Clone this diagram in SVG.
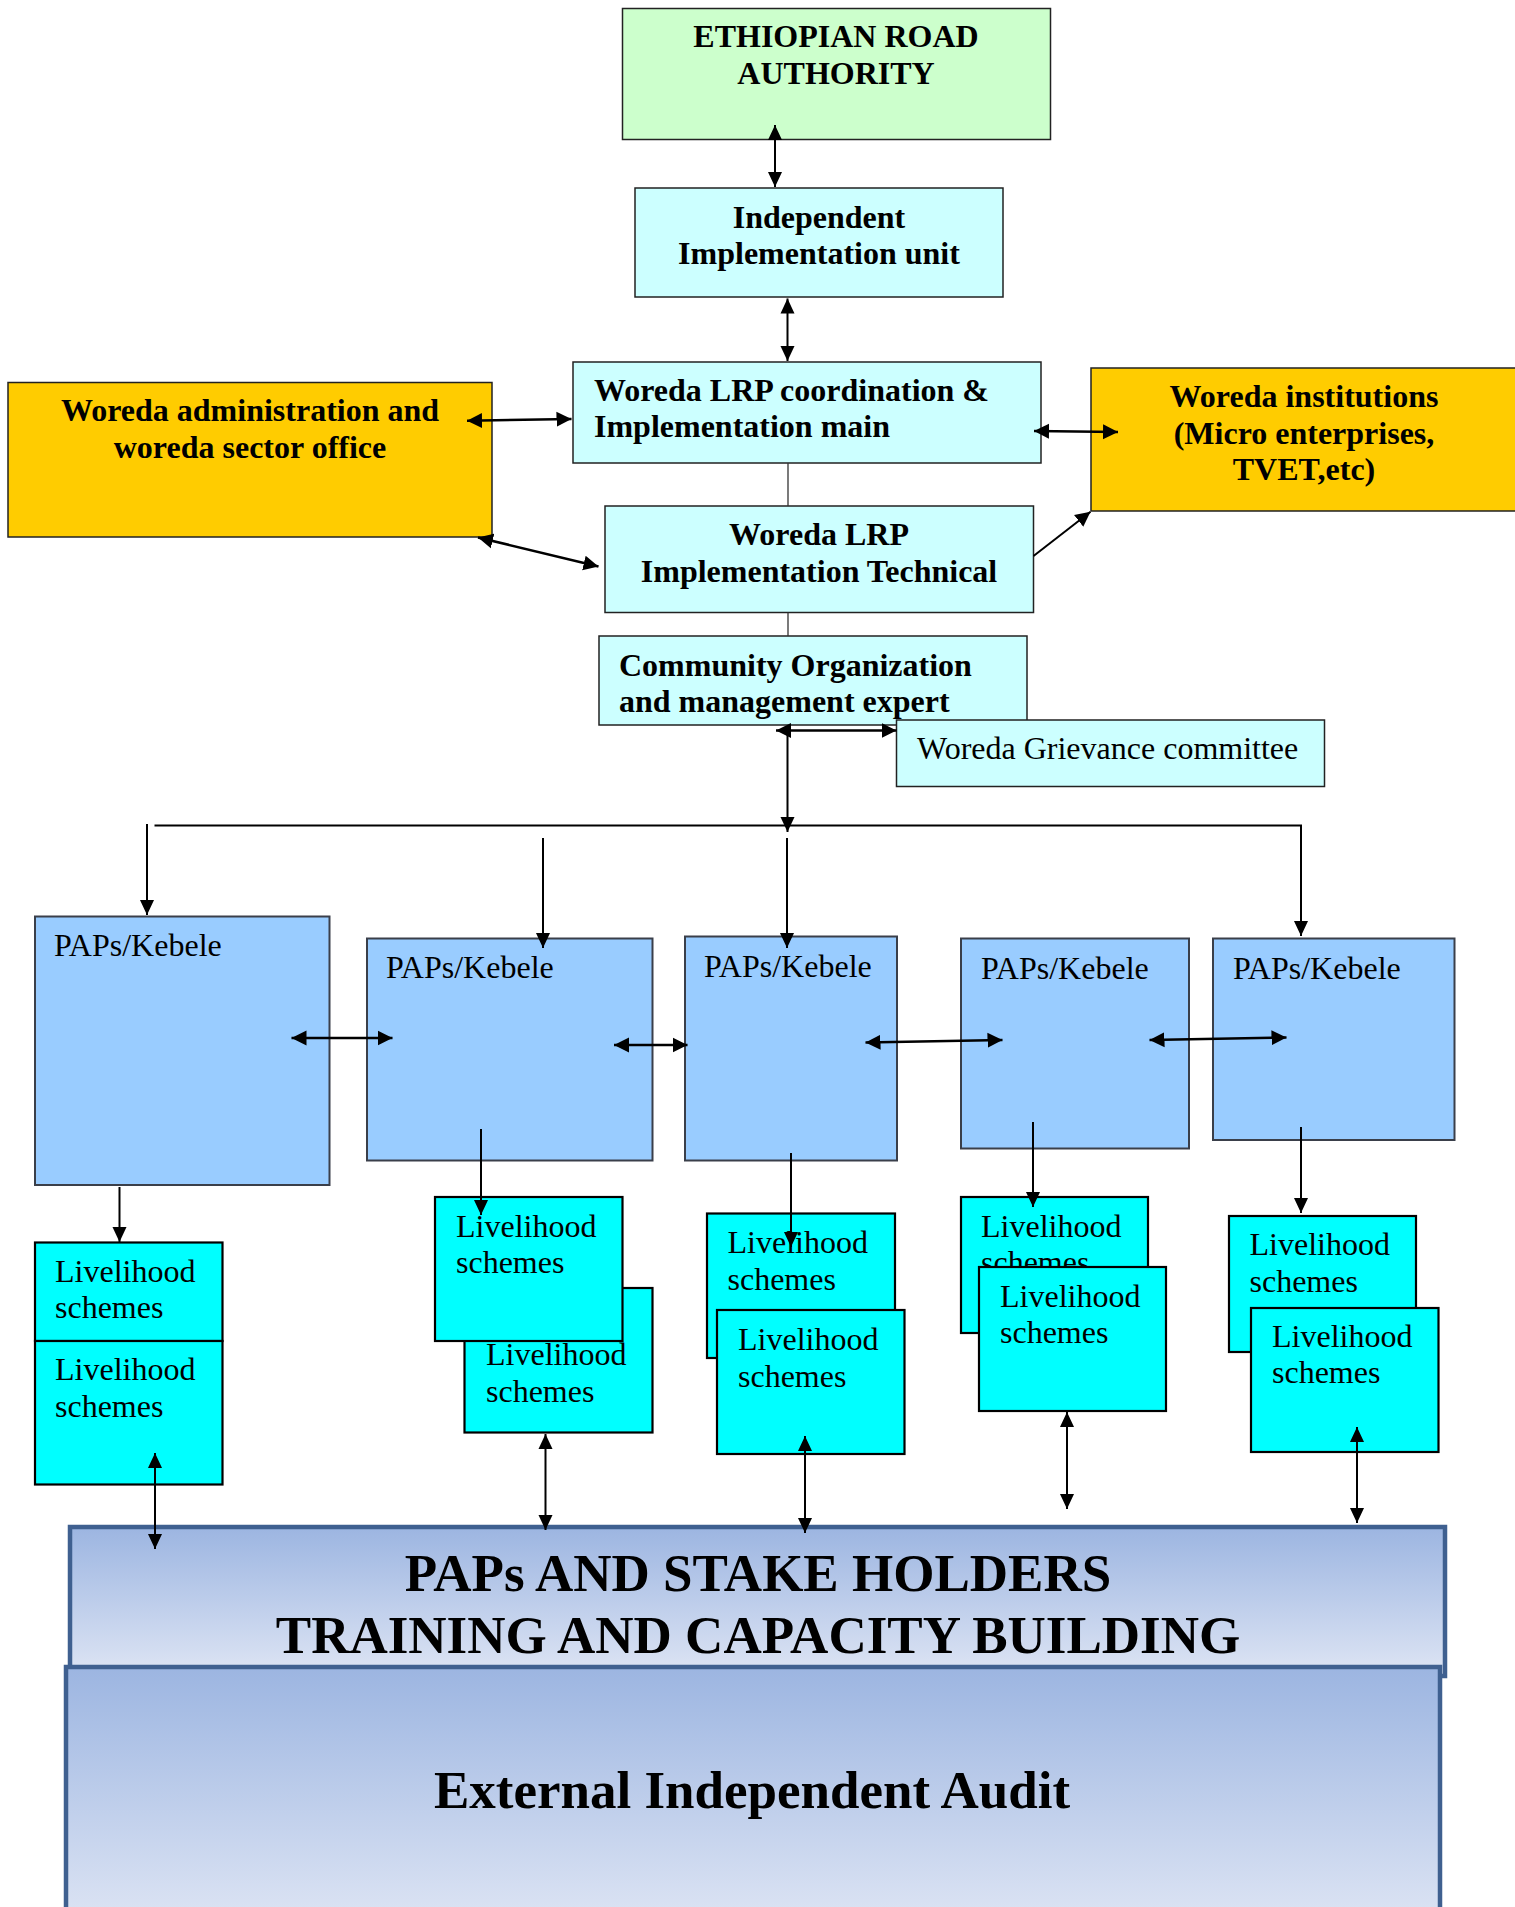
<svg xmlns="http://www.w3.org/2000/svg" width="1515" height="1907" viewBox="0 0 1515 1907">
<style>
  .t { font-family: "Liberation Serif", "Times New Roman", serif; fill: #000; }
  .b { font-weight: bold; font-size: 32px; }
  .r { font-size: 32px; }
  .big { font-weight: bold; font-size: 53px; }
  .mid { text-anchor: middle; }
  .era { fill: #ccffcc; stroke: #222; stroke-width: 1.5; }
  .lc { fill: #ccffff; stroke: #222; stroke-width: 1.5; }
  .yel { fill: #ffcc00; stroke: #222; stroke-width: 1.5; }
  .paps { fill: #99ccff; stroke: #3a3f4a; stroke-width: 2; }
  .ls { fill: #00ffff; stroke: #000; stroke-width: 2.2; }
  .blk { fill: url(#grad); stroke: #3f6090; stroke-width: 4.5; }
  .c { fill: none; stroke: #000; stroke-width: 2; }
  .ct { fill: none; stroke: #000; stroke-width: 2.6; }
  .cl { fill: none; stroke: #333; stroke-width: 1.3; }
</style>
<defs>
  <marker id="ah" markerUnits="userSpaceOnUse" markerWidth="16" markerHeight="15" refX="15" refY="7.5" orient="auto-start-reverse">
    <path d="M0,0.5 L15,7.5 L0,14.5 z" fill="#000"/>
  </marker>
  <marker id="ahb" markerUnits="userSpaceOnUse" markerWidth="16" markerHeight="16" refX="15" refY="8" orient="auto-start-reverse">
    <path d="M0,0.5 L15,8 L0,15.5 z" fill="#000"/>
  </marker>
  <linearGradient id="grad" x1="0" y1="0" x2="0" y2="1">
    <stop offset="0" stop-color="#9cb5e1"/>
    <stop offset="1" stop-color="#dee5f4"/>
  </linearGradient>
  <clipPath id="clipCom"><rect x="599" y="636" width="428" height="89"/></clipPath>
</defs>

<g id="era">
  <rect class="era" x="622.5" y="8.5" width="428" height="131"/>
  <text class="t b mid" x="836" y="47">ETHIOPIAN ROAD</text>
  <text class="t b mid" x="836" y="84">AUTHORITY</text>
</g>
<g id="iiu">
  <rect class="lc" x="635" y="188" width="368" height="109"/>
  <text class="t b mid" x="819" y="228">Independent</text>
  <text class="t b mid" x="819" y="264">Implementation unit</text>
</g>
<g id="coord">
  <rect class="lc" x="573" y="362" width="468" height="101"/>
  <text class="t b" x="594" y="401">Woreda LRP coordination &amp;</text>
  <text class="t b" x="594" y="437">Implementation main</text>
</g>
<g id="admin">
  <rect class="yel" x="8" y="382.5" width="484" height="154.5"/>
  <text class="t b mid" x="250" y="421">Woreda administration and</text>
  <text class="t b mid" x="250" y="458">woreda sector office</text>
</g>
<g id="institutions">
  <rect class="yel" x="1091" y="368" width="430" height="143"/>
  <text class="t b mid" x="1304" y="407">Woreda institutions</text>
  <text class="t b mid" x="1304" y="444">(Micro enterprises,</text>
  <text class="t b mid" x="1304" y="480">TVET,etc)</text>
</g>
<g id="technical">
  <rect class="lc" x="605" y="506" width="428.5" height="106.5"/>
  <text class="t b mid" x="819" y="545">Woreda LRP</text>
  <text class="t b mid" x="819" y="582">Implementation Technical</text>
</g>
<g id="community">
  <rect class="lc" x="599" y="636" width="428" height="89"/>
  <g clip-path="url(#clipCom)">
    <text class="t b" x="619" y="676">Community Organization</text>
    <text class="t b" x="619" y="712">and management expert</text>
  </g>
</g>
<g id="grievance">
  <rect class="lc" x="896.5" y="720" width="428" height="66.5"/>
  <text class="t r" x="917" y="758.5">Woreda Grievance committee</text>
</g>

<g id="paps1">
  <rect class="paps" x="35" y="916.5" width="294.5" height="268.5"/>
  <text class="t r" x="54" y="956">PAPs/Kebele</text>
</g>
<g id="paps2">
  <rect class="paps" x="367" y="938.5" width="285.5" height="222"/>
  <text class="t r" x="386" y="978">PAPs/Kebele</text>
</g>
<g id="paps3">
  <rect class="paps" x="685" y="936.5" width="212" height="224"/>
  <text class="t r" x="704" y="977">PAPs/Kebele</text>
</g>
<g id="paps4">
  <rect class="paps" x="961" y="938.5" width="228" height="210"/>
  <text class="t r" x="981" y="979">PAPs/Kebele</text>
</g>
<g id="paps5">
  <rect class="paps" x="1213" y="938.5" width="241.5" height="201.5"/>
  <text class="t r" x="1233" y="979">PAPs/Kebele</text>
</g>

<g id="ls1a">
  <rect class="ls" x="35" y="1242.5" width="187.5" height="98.5"/>
  <text class="t r" x="55" y="1282">Livelihood</text>
  <text class="t r" x="55" y="1318">schemes</text>
</g>
<g id="ls1b">
  <rect class="ls" x="35" y="1341" width="187.5" height="143.5"/>
  <text class="t r" x="55" y="1380">Livelihood</text>
  <text class="t r" x="55" y="1417">schemes</text>
</g>
<g id="ls2b">
  <rect class="ls" x="464.5" y="1288" width="188" height="144.5"/>
  <text class="t r" x="486" y="1365">Livelihood</text>
  <text class="t r" x="486" y="1402">schemes</text>
</g>
<g id="ls2a">
  <rect class="ls" x="435" y="1197" width="187.5" height="144"/>
  <text class="t r" x="456" y="1237">Livelihood</text>
  <text class="t r" x="456" y="1273">schemes</text>
</g>
<g id="ls3a">
  <rect class="ls" x="707" y="1213.5" width="188" height="144.5"/>
  <text class="t r" x="727.5" y="1253">Livelihood</text>
  <text class="t r" x="727.5" y="1290">schemes</text>
</g>
<g id="ls3b">
  <rect class="ls" x="717" y="1310" width="187.5" height="144"/>
  <text class="t r" x="738" y="1350">Livelihood</text>
  <text class="t r" x="738" y="1387">schemes</text>
</g>
<g id="ls4a">
  <rect class="ls" x="961" y="1197" width="187" height="136"/>
  <text class="t r" x="981" y="1237">Livelihood</text>
  <text class="t r" x="981" y="1273">schemes</text>
</g>
<g id="ls4b">
  <rect class="ls" x="979" y="1267" width="187" height="144"/>
  <text class="t r" x="1000" y="1307">Livelihood</text>
  <text class="t r" x="1000" y="1343">schemes</text>
</g>
<g id="ls5a">
  <rect class="ls" x="1229" y="1216" width="187" height="136"/>
  <text class="t r" x="1249.5" y="1255">Livelihood</text>
  <text class="t r" x="1249.5" y="1292">schemes</text>
</g>
<g id="ls5b">
  <rect class="ls" x="1251" y="1308" width="187.5" height="144"/>
  <text class="t r" x="1272" y="1347">Livelihood</text>
  <text class="t r" x="1272" y="1383">schemes</text>
</g>

<g id="training">
  <rect class="blk" x="70" y="1527" width="1375" height="149"/>
  <text class="t big mid" x="758" y="1591">PAPs AND STAKE HOLDERS</text>
  <text class="t big mid" x="758" y="1653">TRAINING AND CAPACITY BUILDING</text>
</g>
<g id="audit">
  <rect class="blk" x="66" y="1667" width="1374" height="260"/>
  <text class="t big mid" x="752" y="1808">External Independent Audit</text>
</g>

<g id="connectors">
  <line class="c" x1="775" y1="125" x2="775" y2="187" marker-start="url(#ah)" marker-end="url(#ah)"/>
  <line class="c" x1="787.5" y1="298.5" x2="787.5" y2="361" marker-start="url(#ah)" marker-end="url(#ah)"/>
  <line class="cl" x1="788" y1="463" x2="788" y2="506"/>
  <line class="cl" x1="788" y1="612.5" x2="788" y2="636"/>
  <line class="ct" x1="467" y1="420.7" x2="571.5" y2="419" marker-start="url(#ahb)" marker-end="url(#ahb)"/>
  <line class="ct" x1="1034" y1="431" x2="1118" y2="432" marker-start="url(#ahb)" marker-end="url(#ahb)"/>
  <line class="ct" x1="478" y1="537.5" x2="598.5" y2="566.5" marker-start="url(#ahb)" marker-end="url(#ahb)"/>
  <line class="c" x1="1033.5" y1="556" x2="1090.5" y2="511.7" marker-end="url(#ahb)"/>
  <line class="ct" x1="776" y1="730.5" x2="896.5" y2="730.5" marker-start="url(#ahb)" marker-end="url(#ahb)"/>
  <line class="c" x1="787.5" y1="731" x2="787.5" y2="832" marker-end="url(#ah)"/>
  <path class="c" d="M154.5,825.5 H1301 V936" marker-end="url(#ah)"/>
  <line class="c" x1="147" y1="824" x2="147" y2="915" marker-end="url(#ah)"/>
  <line class="c" x1="543" y1="838" x2="543" y2="948" marker-end="url(#ah)"/>
  <line class="c" x1="787" y1="838" x2="787" y2="948" marker-end="url(#ah)"/>
  <line class="ct" x1="291.5" y1="1038" x2="392.5" y2="1038" marker-start="url(#ahb)" marker-end="url(#ahb)"/>
  <line class="ct" x1="614" y1="1045" x2="687.5" y2="1045" marker-start="url(#ahb)" marker-end="url(#ahb)"/>
  <line class="ct" x1="865.5" y1="1042.5" x2="1002.5" y2="1040" marker-start="url(#ahb)" marker-end="url(#ahb)"/>
  <line class="ct" x1="1149.5" y1="1040" x2="1286.5" y2="1037.5" marker-start="url(#ahb)" marker-end="url(#ahb)"/>
  <line class="c" x1="119.5" y1="1187" x2="119.5" y2="1242" marker-end="url(#ah)"/>
  <line class="c" x1="481" y1="1129" x2="481" y2="1215" marker-end="url(#ah)"/>
  <line class="c" x1="791" y1="1153" x2="791" y2="1247" marker-end="url(#ah)"/>
  <line class="c" x1="1033" y1="1122" x2="1033" y2="1207" marker-end="url(#ah)"/>
  <line class="c" x1="1301" y1="1127" x2="1301" y2="1213" marker-end="url(#ah)"/>
  <line class="c" x1="155" y1="1453" x2="155" y2="1549" marker-start="url(#ah)" marker-end="url(#ah)"/>
  <line class="c" x1="545.5" y1="1434" x2="545.5" y2="1530" marker-start="url(#ah)" marker-end="url(#ah)"/>
  <line class="c" x1="805" y1="1436" x2="805" y2="1533" marker-start="url(#ah)" marker-end="url(#ah)"/>
  <line class="c" x1="1067" y1="1412" x2="1067" y2="1509" marker-start="url(#ah)" marker-end="url(#ah)"/>
  <line class="c" x1="1357" y1="1427" x2="1357" y2="1523" marker-start="url(#ah)" marker-end="url(#ah)"/>
</g>
</svg>
